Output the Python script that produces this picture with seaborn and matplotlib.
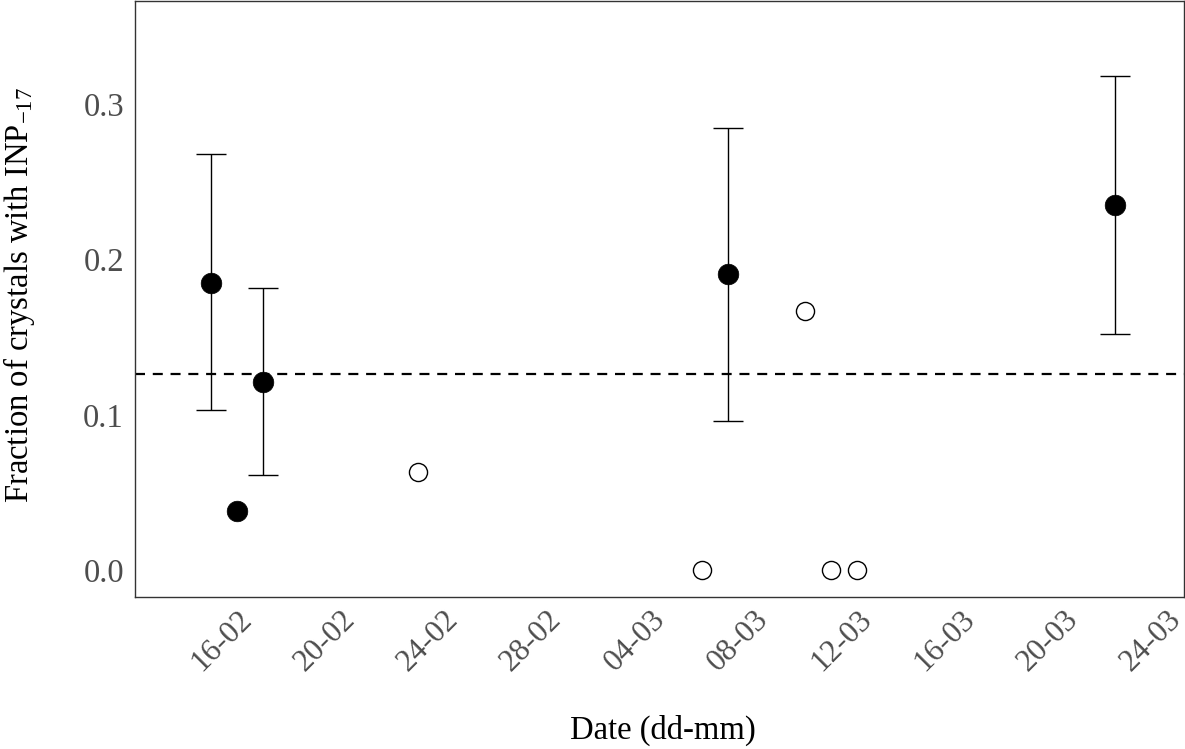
import pandas as pd
import numpy as np
import matplotlib
matplotlib.use("Agg")
import matplotlib.pyplot as plt
import matplotlib.dates as mdates
import seaborn as sns

# ==========================================
# DATA
# ==========================================

# samples with INP counts (filled markers, with confidence interval)
filled_dates = ["2019-02-15", "2019-02-16", "2019-02-17", "2019-03-07", "2019-03-22"]
filled_frac = [0.185, 0.038, 0.121, 0.191, 0.235]
filled_low = [0.103, np.nan, 0.061, 0.096, 0.152]
filled_high = [0.268, np.nan, 0.182, 0.285, 0.318]

# other samples (open markers)
open_dates = ["2019-02-23", "2019-03-06", "2019-03-10", "2019-03-11", "2019-03-12"]
open_frac = [0.063, 0.0, 0.167, 0.0, 0.0]

mean_frac = 0.1265

tick_dates = ["2019-02-16", "2019-02-20", "2019-02-24", "2019-02-28", "2019-03-04",
              "2019-03-08", "2019-03-12", "2019-03-16", "2019-03-20", "2019-03-24"]

df_filled = pd.DataFrame({
    "date": pd.to_datetime(filled_dates),
    "frac": filled_frac,
    "low": filled_low,
    "high": filled_high
})
df_open = pd.DataFrame({
    "date": pd.to_datetime(open_dates),
    "frac": open_frac
})

# ==========================================
# STYLE
# ==========================================

sns.set_theme(style="white")
plt.rcParams["font.family"] = ["Liberation Serif", "DejaVu Serif"]
plt.rcParams["mathtext.fontset"] = "custom"
plt.rcParams["mathtext.rm"] = "Liberation Serif"
plt.rcParams["mathtext.default"] = "regular"

fig = plt.figure(figsize=(11.85, 7.49), dpi=100)
ax = fig.add_axes([135 / 1185, 1 - 597 / 749, 1049 / 1185, 596 / 749])

# ==========================================
# PLOT
# ==========================================

ax.axhline(mean_frac, color="black", linestyle=(0, (4.5, 3.5)), linewidth=1.6, zorder=1)

eb = df_filled.dropna()
ax.errorbar(eb["date"], eb["frac"],
            yerr=[eb["frac"] - eb["low"], eb["high"] - eb["frac"]],
            fmt="none", ecolor="black", elinewidth=1.0, capsize=11, capthick=1.0, zorder=2)

sns.scatterplot(data=df_filled, x="date", y="frac", ax=ax, color="black",
                s=220, edgecolor="black", linewidth=0.5, zorder=3)
sns.scatterplot(data=df_open, x="date", y="frac", ax=ax, facecolor="white",
                s=170, edgecolor="black", linewidth=1.0, zorder=3)

# ==========================================
# AXES
# ==========================================

ax.set_xlim(pd.Timestamp("2019-02-12 01:00"), pd.Timestamp("2019-03-24 16:00"))
ax.set_ylim(-0.0174, 0.3666)

ax.set_xticks(pd.to_datetime(tick_dates))
ax.xaxis.set_major_formatter(mdates.DateFormatter("%d-%m"))
ax.set_yticks([0.0, 0.1, 0.2, 0.3])
ax.set_yticklabels(["0.0", "0.1", "0.2", "0.3"])

ax.tick_params(axis="both", which="major", length=5, width=1.0, color="#333333",
               labelsize=23.5, labelcolor="#4D4D4D", direction="out")
ax.tick_params(axis="x", pad=1, labelsize=22.5)
ax.tick_params(axis="y", pad=3)
for lbl in ax.get_xticklabels():
    lbl.set_rotation(45)
    lbl.set_ha("right")
    lbl.set_va("top")
    lbl.set_rotation_mode("anchor")

for s in ax.spines.values():
    s.set_color("#333333")
    s.set_linewidth(1.0)

ax.set_xlabel("Date (dd-mm)", fontsize=23.5, color="black")
ax.set_ylabel("Fraction of crystals with INP$_{-17}$", fontsize=23.5, color="black")
ax.xaxis.set_label_coords(0.503, -0.197)
ax.yaxis.set_label_coords(-0.093, 0.507)

plt.savefig("out.png", dpi=100)
